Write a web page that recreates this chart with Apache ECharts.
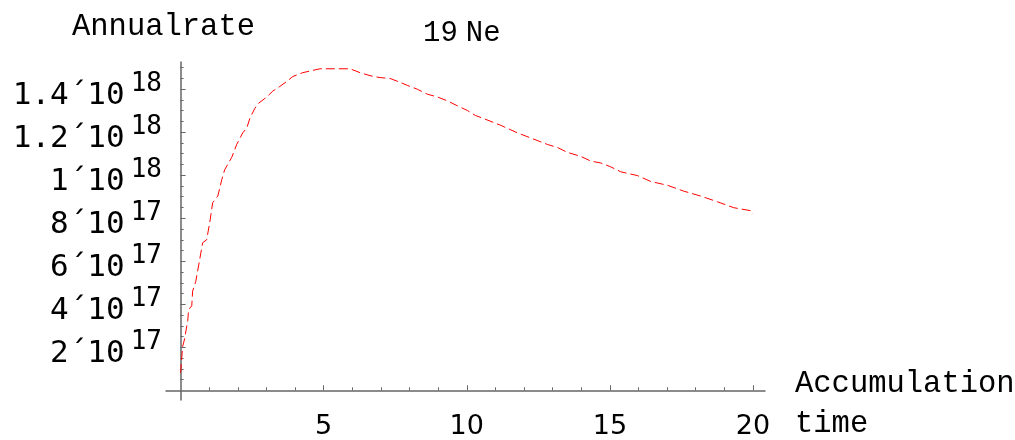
<!DOCTYPE html>
<html>
<head>
<meta charset="utf-8">
<script src="https://cdn.jsdelivr.net/npm/echarts@6/dist/echarts.min.js"></script>
<style>
  html, body { margin: 0; padding: 0; background: #fff; }
  #chart { width: 1015px; height: 440px; }
</style>
</head>
<body>
<div id="chart"></div>
<script>
// accumulation time and annual rate (in units of 1e17)
var times = [0, 0.07, 0.14, 0.25, 0.28, 0.39, 0.42, 0.53, 0.67, 0.77, 0.91, 1.02, 1.12, 1.30, 1.44, 1.54,
  1.79, 1.96, 2.17, 2.31, 2.42, 2.59, 2.70, 3.01, 3.22, 3.47, 3.71, 3.92, 4.27, 4.87, 5.57, 5.92,
  6.27, 6.62, 6.97, 7.32, 7.67, 7.92, 8.27, 8.62, 8.97, 9.32, 9.67, 10.02, 10.30, 10.58, 11.17,
  11.77, 12.22, 12.82, 13.17, 13.52, 13.98, 14.33, 14.68, 15.03, 15.38, 15.97, 16.43, 17.02,
  17.58, 18.18, 18.77, 19.33, 19.93, 20.0];
var rates = [0.81, 2.03, 2.39, 3.25, 3.75, 3.93, 4.61, 5.06, 6.10, 6.86, 7.00, 7.81, 8.72, 9.03, 9.80, 10.25,
  10.84, 11.43, 11.97, 12.19, 12.64, 13.10, 13.32, 13.64, 13.91, 14.13, 14.36, 14.59, 14.77, 14.95, 14.95, 14.95,
  14.77, 14.63, 14.54, 14.50, 14.32, 14.18, 14.00, 13.77, 13.64, 13.46, 13.23, 13.01, 12.78, 12.64, 12.33,
  11.97, 11.74, 11.43, 11.29, 11.06, 10.88, 10.66, 10.57, 10.39, 10.16, 9.98, 9.71, 9.53,
  9.26, 9.03, 8.76, 8.49, 8.35, 8.2];

var xMajorTicks = [5, 10, 15, 20];
var xMinorTicks = [1, 2, 3, 4, 6, 7, 8, 9, 11, 12, 13, 14, 16, 17, 18, 19];
var yMajorTicks = [2e17, 4e17, 6e17, 8e17, 1e18, 1.2e18, 1.4e18];
var yTickLabels = ['2´10^17', '4´10^17', '6´10^17', '8´10^17', '1´10^18', '1.2´10^18', '1.4´10^18'];
var yMinorTicks = [0.5e17, 1e17, 1.5e17, 2.5e17, 3e17, 3.5e17, 4.5e17, 5e17, 5.5e17, 6.5e17, 7e17, 7.5e17,
  8.5e17, 9e17, 9.5e17, 10.5e17, 11e17, 11.5e17, 12.5e17, 13e17, 13.5e17, 14.5e17, 15e17];

var axisGray = '#666';
var mono = 'Liberation Mono';

var chart = echarts.init(document.getElementById('chart'));

var points = times.map(function (t, i) { return [t, rates[i] * 1e17]; });

function yLabel(v) {
  var best = 0;
  for (var i = 1; i < yMajorTicks.length; i++) {
    if (Math.abs(yMajorTicks[i] - v) < Math.abs(yMajorTicks[best] - v)) best = i;
  }
  var parts = yTickLabels[best].split('^');
  return '{m|' + parts[0] + '}{s|' + parts[1] + '}';
}

var labelFont = {fontFamily: mono, fontSize: 30.5, fontWeight: 'normal', color: '#000'};

var option = {
  animation: false,
  title: [
    {text: 'Annualrate', left: 67, top: 6, textStyle: labelFont},
    {text: '{a|19}{b|Ne}', left: 418, top: 14,
      textStyle: {rich: {
        a: {fontFamily: mono, fontSize: 29, fontWeight: 'normal', color: '#000'},
        b: {fontFamily: mono, fontSize: 29, fontWeight: 'normal', color: '#000', padding: [0, 0, 0, 8]}
      }}},
    {text: 'Accumulation', left: 790, top: 363, textStyle: labelFont},
    {text: 'time', left: 790, top: 403, textStyle: labelFont}
  ],
  grid: {left: 166, top: 62, width: 599, height: 348},
  xAxis: [
    {
      type: 'value', min: -0.51, max: 20.42, position: 'bottom',
      splitLine: {show: false},
      axisLine: {onZero: true, lineStyle: {color: axisGray, width: 1.5}},
      axisTick: {inside: true, length: 5, customValues: xMajorTicks, lineStyle: {color: axisGray}},
      axisLabel: {customValues: xMajorTicks, fontFamily: 'DejaVu Sans', fontSize: 27, color: '#000', margin: 13}
    },
    {
      type: 'value', min: -0.51, max: 20.42, position: 'bottom',
      splitLine: {show: false},
      axisLine: {show: false, onZero: true},
      axisTick: {inside: true, length: 3, customValues: xMinorTicks, lineStyle: {color: axisGray}},
      axisLabel: {show: false}
    }
  ],
  yAxis: [
    {
      type: 'value', min: -0.045e18, max: 1.5265e18, position: 'left',
      splitLine: {show: false},
      axisLine: {onZero: true, lineStyle: {color: axisGray, width: 1.5}},
      axisTick: {inside: true, length: 5, customValues: yMajorTicks, lineStyle: {color: axisGray}},
      axisLabel: {
        customValues: yMajorTicks, margin: 4, padding: [4, 0, 0, 0],
        formatter: yLabel,
        rich: {
          m: {fontFamily: 'DejaVu Sans Mono', fontSize: 31, color: '#000', lineHeight: 40, verticalAlign: 'bottom'},
          s: {fontFamily: 'DejaVu Sans Mono', fontSize: 26, color: '#000', lineHeight: 12, verticalAlign: 'top', padding: [0, 0, 0, 6]}
        }
      }
    },
    {
      type: 'value', min: -0.045e18, max: 1.5265e18, position: 'left',
      splitLine: {show: false},
      axisLine: {show: false, onZero: true},
      axisTick: {inside: true, length: 3, customValues: yMinorTicks, lineStyle: {color: axisGray}},
      axisLabel: {show: false}
    }
  ],
  series: [
    {
      type: 'line', xAxisIndex: 0, yAxisIndex: 0,
      data: points,
      showSymbol: false,
      lineStyle: {color: '#ff0000', width: 1, type: [9, 4]}
    }
  ]
};

chart.setOption(option);
</script>
</body>
</html>
